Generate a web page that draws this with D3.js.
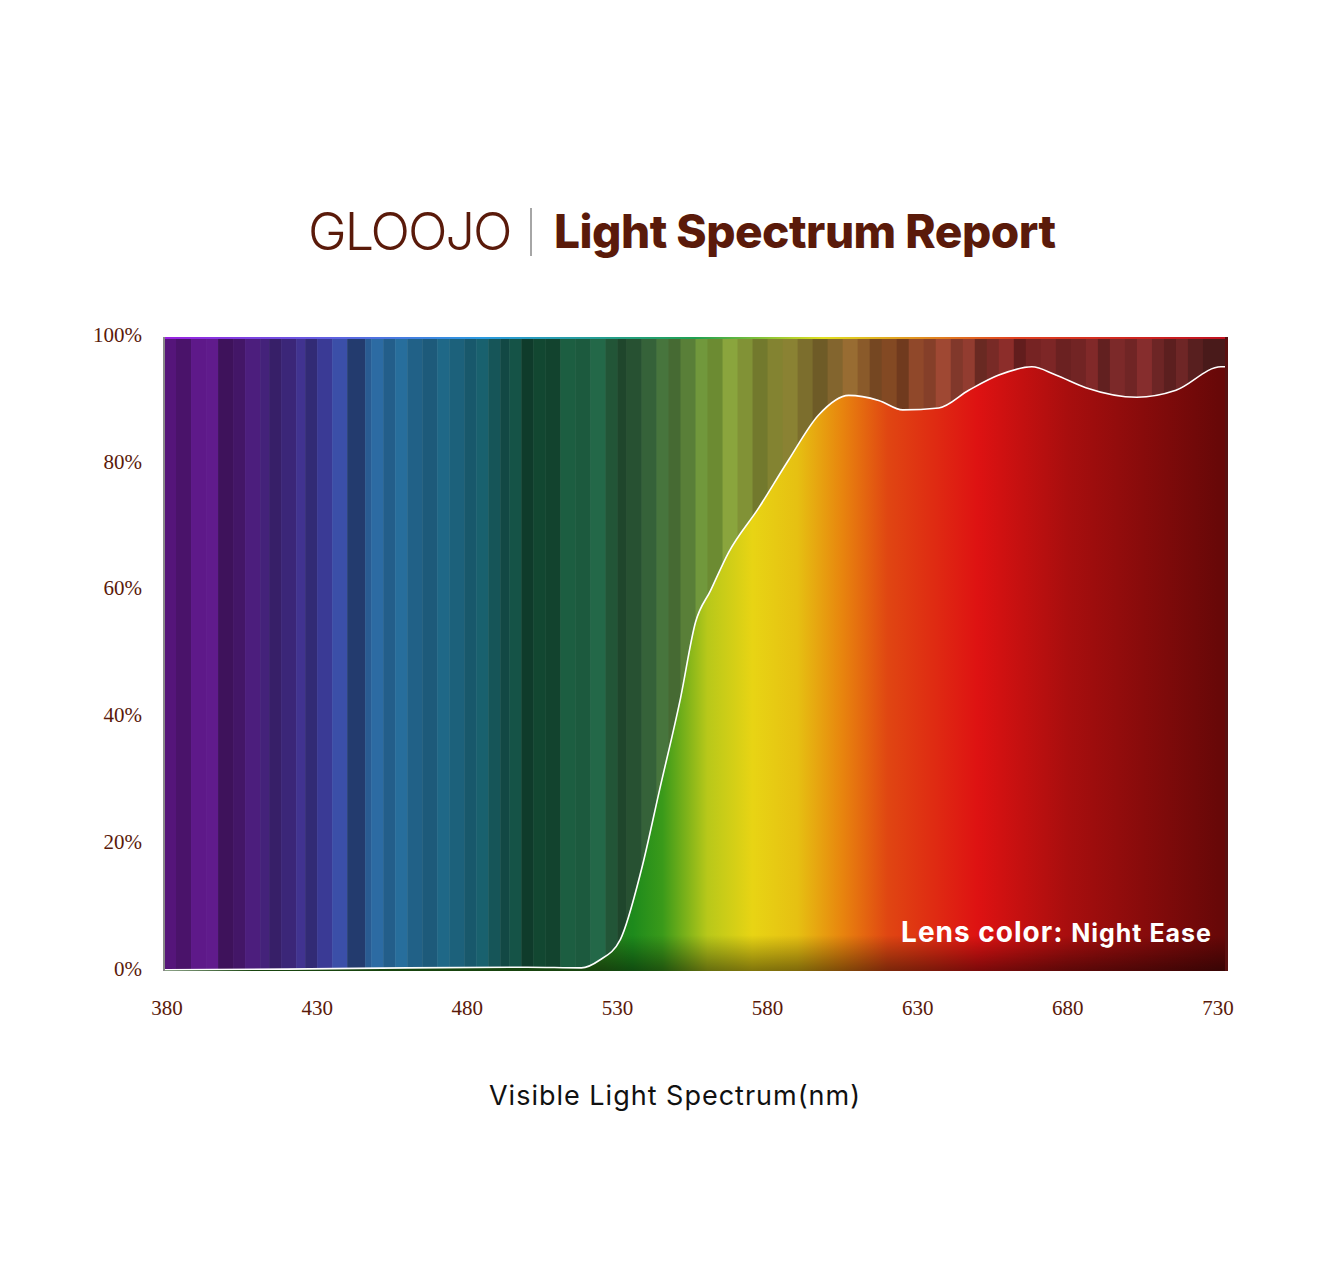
<!DOCTYPE html>
<html><head><meta charset="utf-8">
<script src="https://cdn.jsdelivr.net/npm/d3@7/dist/d3.min.js"></script>
<style>body{margin:0;background:#fff}</style></head>
<body><svg id="c" width="1325" height="1279"></svg>
<script>
const xTicks=[380,430,480,530,580,630,680,730];
const yTicks=[0,20,40,60,80,100];
const curveNm=[380,420,460,500,518,524,531,538,544,551,556,561,567,577,587,597,607,617,625,637,647,657,668,676,686,703,716,731];
const curveT=[0.2,0.3,0.5,0.6,0.5,1.7,5,16,28.5,43,55,60,66,73,80.6,87.7,90.8,90,88.5,88.8,91.6,94,95.3,94,92,90.5,91.6,95.3];
const bgNm=[380,400,430,450,480,500,520,540,560,580,600,620,640,660,700,730];
const bgCol=["#64198f","#561a80","#3a3a95","#2a70a5","#1a6478","#145238","#226848","#3e6e3e","#789a38","#8a8a34","#8a6a30","#8a4a24","#9a4434","#7a2424","#842c2c","#5a2020"];
const stripeNm=[380,383,388,393,397,402,406,411,414,418,423,426,430,435,440,446,448,452,456,460,465,470,474,479,483,487,491,494,498,502,506,511,516,521,526,530,533,538,543,547,551,556,560,565,570,575,580,585,590,595,600,605,610,614,618,623,627,632,636,641,645,649,653,657,662,666,671,676,681,686,690,694,699,703,708,712,716,720,725];
const stripeB=[0.85,0.75,1.0,1.05,0.7,0.8,0.95,0.9,0.75,0.85,1.0,0.8,1.0,1.1,0.7,0.9,1.0,0.85,1.0,0.9,0.85,1.0,0.95,0.88,1.0,0.9,0.8,0.95,0.7,0.85,0.75,1.0,0.9,1.0,0.8,0.65,0.75,0.9,1.0,0.85,0.95,1.05,0.9,1.1,1.0,0.85,0.95,1.0,0.9,0.8,0.95,1.1,1.0,0.85,0.95,0.8,1.0,0.9,1.05,0.85,1.0,0.75,0.9,1.1,0.8,0.95,1.0,0.85,0.9,1.0,0.75,0.95,0.85,1.05,0.9,0.8,1.0,0.85,0.75];
const fillNm=[525,535,545,560,575,590,605,620,650,680,730];
const fillCol=["#2a7a18","#1d8a1c","#3a9a1a","#b8c81a","#e8d414","#e6c012","#e8840e","#e04612","#de1212","#a80e0e","#680808"];

const svg=d3.select("#c");
const L=163,R=1228,T=337,B=971;
const x=d3.scaleLinear().domain([380,730]).range([L+4,R-10]);
const y=d3.scaleLinear().domain([0,100]).range([B,T]);
const bgScale=d3.scaleLinear().domain(bgNm).range(bgCol).interpolate(d3.interpolateRgb);
const defs=svg.append("defs");
defs.append("clipPath").attr("id","pc").append("rect").attr("x",L).attr("y",T).attr("width",R-L).attr("height",B-T);
const g=svg.append("g").attr("clip-path","url(#pc)");
stripeNm.forEach((n,i)=>{
  const n2=i<stripeNm.length-1?stripeNm[i+1]:740;
  const c=d3.color(bgScale(n)); const b=stripeB[i];
  const cc=d3.rgb(c.r*b,c.g*b,c.b*b);
  g.append("rect").attr("x",x(n)-(i==0?8:0)).attr("y",T).attr("width",x(n2)-x(n)+(i==0?8:0)+0.5).attr("height",B-T).attr("fill",cc);
});
const tg=defs.append("linearGradient").attr("id","tg").attr("gradientUnits","userSpaceOnUse").attr("x1",L).attr("x2",R).attr("y1",0).attr("y2",0);
[["0","#9a20e0"],["0.3","#2a9ae0"],["0.5","#20a050"],["0.62","#e0e020"],["0.8","#e04020"],["1","#c01020"]].forEach(s=>tg.append("stop").attr("offset",s[0]).attr("stop-color",s[1]));
g.append("rect").attr("x",L).attr("y",T).attr("width",R-L).attr("height",2).attr("fill","url(#tg)");
const fg=defs.append("linearGradient").attr("id","fg").attr("gradientUnits","userSpaceOnUse").attr("x1",L).attr("x2",R).attr("y1",0).attr("y2",0);
fillNm.forEach((n,i)=>fg.append("stop").attr("offset",(x(n)-L)/(R-L)).attr("stop-color",fillCol[i]));
const vg=defs.append("linearGradient").attr("id","vg").attr("gradientUnits","userSpaceOnUse").attr("x1",0).attr("x2",0).attr("y1",935).attr("y2",B);
[["0",0],["1",0.45]].forEach(s=>vg.append("stop").attr("offset",s[0]).attr("stop-color","#000").attr("stop-opacity",s[1]));
const pts=curveNm.map((n,i)=>[n,curveT[i]]);
const area=d3.area().x(d=>x(d[0])).y0(B).y1(d=>y(d[1])).curve(d3.curveMonotoneX);
const line=d3.line().x(d=>x(d[0])).y(d=>y(d[1])).curve(d3.curveMonotoneX);
const ext=[[375,curveT[0]],...pts,[740,curveT[curveT.length-1]]];
g.append("path").attr("d",area(ext)).attr("fill","url(#fg)");
g.append("path").attr("d",area(ext)).attr("fill","url(#vg)");
g.append("path").attr("d",line(ext)).attr("fill","none").attr("stroke","#fff").attr("stroke-width",1.6);
g.append("rect").attr("x",L).attr("y",T).attr("width",2).attr("height",B-T).attr("fill","#888");
g.append("rect").attr("x",R-3).attr("y",T).attr("width",3).attr("height",B-T).attr("fill","#5a1010");
const brown="#5a1a0a";
const ya=svg.append("g").attr("transform",`translate(${L-18},0)`).call(d3.axisLeft(y).tickValues(yTicks).tickFormat(d=>d+"%").tickSize(0));
ya.select(".domain").remove();
ya.selectAll("text").attr("font-family","Liberation Serif").attr("font-size",21).attr("fill",brown).attr("dy","0.2em");
const xa=svg.append("g").attr("transform",`translate(0,${B+26})`).call(d3.axisBottom(x).tickValues(xTicks).tickSize(0));
xa.select(".domain").remove();
xa.selectAll("text").attr("font-family","Liberation Serif").attr("font-size",21).attr("fill",brown);
xa.selectAll(".tick").attr("transform",d=>`translate(${x(d)},0)`);
svg.append("text").attr("x",675).attr("y",1105).attr("text-anchor","middle").attr("font-family","Inter").attr("font-size",27).attr("letter-spacing",1).attr("fill","#111").text("Visible Light Spectrum(nm)");
svg.append("text").attr("x",1212).attr("y",942).attr("text-anchor","end").attr("font-family","Inter").attr("font-weight",700).attr("fill","#fff").attr("letter-spacing",1)
 .call(t=>{t.append("tspan").attr("font-size",28).text("Lens color: ");t.append("tspan").attr("font-size",25).text("Night Ease");});
svg.append("text").attr("x",308).attr("y",250).attr("font-family","Inter").attr("font-weight",300).attr("font-size",52).attr("fill",brown).attr("letter-spacing",-2).text("GLOOJO");
svg.append("line").attr("x1",531).attr("x2",531).attr("y1",208).attr("y2",256).attr("stroke","#888").attr("stroke-width",1.5);
svg.append("text").attr("x",554).attr("y",248).attr("font-family","Inter").attr("font-weight",800).attr("font-size",46).attr("letter-spacing",-0.5).attr("fill",brown).text("Light Spectrum Report");
</script></body></html>
